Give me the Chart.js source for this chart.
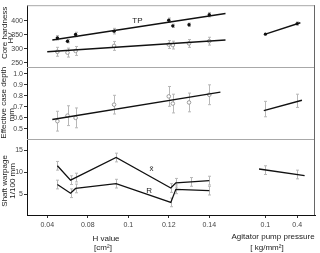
<!DOCTYPE html>
<html>
<head>
<meta charset="utf-8">
<script src="https://cdn.jsdelivr.net/npm/chart.js@4.4.0/dist/chart.umd.min.js"></script>
<style>
  html, body { margin: 0; padding: 0; background: #fff; }
</style>
</head>
<body>
<canvas id="chart" width="320" height="253"></canvas>
<script>
// x axis: H value ticks (unevenly spaced on the original) and pressure ticks
const hTicks = [0.04, 0.08, 0.1, 0.12, 0.14];
const hTickLabels = ['0.04', '0.08', '0.1', '0.12', '0.14'];
const pressureTicks = [0.1, 0.4];
const pressureTickLabels = ['0.1', '0.4'];

// y ticks per panel
const hardnessTicks = [250, 300, 350, 400];
const depthTicks = [0.5, 0.6, 0.7, 0.8, 0.9, 1.0];
const warpTicks = [5, 10, 15];

// Core hardness (HV)
const hardnessH = [0.05, 0.06, 0.068, 0.093, 0.12, 0.122, 0.13, 0.14];
const hardnessTP = [339, 327, 351, 363, 402, 382, 386, 422];
const hardnessTPErr = [8, 6, 8, 10, 8, 6, 6, 8];
const hardnessCore = [289, 286, 292, 310, 315, 313, 319, 327];
const hardnessCoreErr = [16, 16, 16, 16, 14, 14, 14, 14];
const fitTPH = [0.045, 0.148];
const fitTP = [331, 426];
const fitCoreH = [0.04, 0.148];
const fitCore = [289, 331];
const hardnessP = [0.1, 0.4];
const hardnessPVal = [352, 390];
const fitHardnessP = [0.1, 0.43];
const fitHardnessPVal = [352, 393];

// Effective case depth (mm)
const depthH = [0.05, 0.06, 0.068, 0.093, 0.12, 0.122, 0.13, 0.14];
const depth = [0.57, 0.62, 0.60, 0.72, 0.795, 0.73, 0.74, 0.81];
const depthErr = [0.09, 0.09, 0.09, 0.085, 0.09, 0.085, 0.085, 0.09];
const fitDepthH = [0.045, 0.1455];
const fitDepth = [0.585, 0.834];
const depthP = [0.1, 0.4];
const depthPVal = [0.68, 0.755];
const depthPErr = [0.07, 0.06];
const fitDepthP = [0.085, 0.445];
const fitDepthPVal = [0.666, 0.76];

// Shaft warpage (1/100 mm)
const xbarH = [0.05, 0.063, 0.068, 0.094, 0.121, 0.1235, 0.131, 0.14];
const xbar = [11.5, 8.2, 8.8, 13.4, 6.4, 7.6, 7.8, 8.1];
const rangeH = [0.05, 0.063, 0.068, 0.094, 0.121, 0.1235, 0.14];
const range = [7.2, 5.2, 6.3, 7.4, 3.1, 6.1, 5.8];
const warpErr = 1.0;
const warpP = [0.1, 0.4];
const warpPVal = [10.5, 9.5];
const fitWarpP = [0.04, 0.47];
const fitWarpPVal = [10.75, 9.25];

// position of an H value along the axis (ticks are one slot apart)
function hSlot(h) {
  const n = hTicks.length;
  for (let i = 0; i < n - 1; i++) {
    if (h <= hTicks[i + 1] || i === n - 2) {
      return i + (h - hTicks[i]) / (hTicks[i + 1] - hTicks[i]);
    }
  }
}
// pressure section sits to the right of the H section
function pSlot(p) {
  return 5.385 + (p - pressureTicks[0]) / (pressureTicks[1] - pressureTicks[0]) * 0.785;
}

function pts(xs, ys, map) {
  return xs.map((x, i) => ({ x: map(x), y: ys[i] }));
}

const BLACK = '#111';
const GREY = '#9a9a9a';
const BAR = '#b8b8b8';

function fitLine(data, yAxisID) {
  return { data, yAxisID, showLine: true, borderColor: BLACK, borderWidth: 1.4, pointRadius: 0 };
}
function polyLine(data, yAxisID, errors) {
  return { data, yAxisID, errors, showLine: true, borderColor: BLACK, borderWidth: 1.3, pointRadius: 0 };
}

const datasets = [
  fitLine(pts(fitTPH, fitTP, hSlot), 'yTop'),
  fitLine(pts(fitCoreH, fitCore, hSlot), 'yTop'),
  fitLine(pts(fitHardnessP, fitHardnessPVal, pSlot), 'yTop'),
  { data: pts(hardnessH, hardnessCore, hSlot), yAxisID: 'yTop', errors: hardnessCoreErr,
    pointRadius: 1.8, pointBackgroundColor: '#fff', pointBorderColor: GREY, pointBorderWidth: 1 },
  { data: pts(hardnessH, hardnessTP, hSlot), yAxisID: 'yTop', errors: hardnessTPErr,
    pointRadius: 1.7, pointBackgroundColor: BLACK, pointBorderColor: BLACK, pointBorderWidth: 0 },
  { data: pts(hardnessP, hardnessPVal, pSlot), yAxisID: 'yTop', errors: [0, 6],
    pointRadius: 1.6, pointBackgroundColor: BLACK, pointBorderColor: BLACK, pointBorderWidth: 0 },

  fitLine(pts(fitDepthH, fitDepth, hSlot), 'yMid'),
  fitLine(pts(fitDepthP, fitDepthPVal, pSlot), 'yMid'),
  { data: pts(depthH, depth, hSlot), yAxisID: 'yMid', errors: depthErr,
    pointRadius: 1.8, pointBackgroundColor: '#fff', pointBorderColor: GREY, pointBorderWidth: 1 },
  { data: pts(depthP, depthPVal, pSlot), yAxisID: 'yMid', errors: depthPErr, pointRadius: 0 },

  polyLine(pts(xbarH, xbar, hSlot), 'yBot', xbar.map(() => warpErr)),
  polyLine(pts(rangeH, range, hSlot), 'yBot', range.map(() => warpErr)),
  fitLine(pts(fitWarpP, fitWarpPVal, pSlot), 'yBot'),
  { data: pts(warpP, warpPVal, pSlot), yAxisID: 'yBot', errors: [warpErr, warpErr], pointRadius: 0 }
];

const errorBars = {
  id: 'errorBars',
  beforeDatasetsDraw(chart) {
    const ctx = chart.ctx;
    ctx.save();
    ctx.strokeStyle = BAR;
    ctx.lineWidth = 1;
    chart.data.datasets.forEach((ds, di) => {
      if (!ds.errors) return;
      const meta = chart.getDatasetMeta(di);
      const ys = chart.scales[ds.yAxisID];
      meta.data.forEach((el, i) => {
        const e = ds.errors[i];
        if (!e) return;
        const v = ds.data[i].y;
        const y1 = ys.getPixelForValue(v - e);
        const y2 = ys.getPixelForValue(v + e);
        const x = Math.round(el.x) + 0.5;
        ctx.beginPath();
        ctx.moveTo(x, y1); ctx.lineTo(x, y2);
        ctx.moveTo(x - 1.5, y1); ctx.lineTo(x + 1.5, y1);
        ctx.moveTo(x - 1.5, y2); ctx.lineTo(x + 1.5, y2);
        ctx.stroke();
      });
    });
    ctx.restore();
  }
};

function vText(ctx, text, x, y) {
  ctx.save();
  ctx.translate(x, y);
  ctx.rotate(-Math.PI / 2);
  ctx.fillText(text, 0, 0);
  ctx.restore();
}

const decorations = {
  id: 'decorations',
  afterDraw(chart) {
    const ctx = chart.ctx;
    const a = chart.chartArea;
    const s = chart.scales;
    ctx.save();
    // frame and panel separators
    ctx.lineWidth = 1;
    ctx.strokeStyle = '#a8a8a8';
    ctx.beginPath();
    ctx.moveTo(a.left, a.top + 0.5); ctx.lineTo(a.right, a.top + 0.5);
    ctx.moveTo(a.left, Math.round(s.yMid.top) + 0.5); ctx.lineTo(a.right, Math.round(s.yMid.top) + 0.5);
    ctx.moveTo(a.left, Math.round(s.yBot.top) + 0.5); ctx.lineTo(a.right, Math.round(s.yBot.top) + 0.5);
    ctx.stroke();
    ctx.strokeStyle = '#666';
    ctx.beginPath();
    ctx.moveTo(Math.round(a.right) - 0.5, a.top); ctx.lineTo(Math.round(a.right) - 0.5, a.bottom);
    ctx.stroke();

    // series labels
    ctx.fillStyle = '#222';
    ctx.font = '8px "Liberation Sans", Arial, sans-serif';
    ctx.textAlign = 'center';
    ctx.textBaseline = 'middle';
    ctx.fillText('TP', s.x.getPixelForValue(hSlot(0.1045)), s.yTop.getPixelForValue(400));
    ctx.fillText('x\u0304', s.x.getPixelForValue(hSlot(0.1115)), s.yBot.getPixelForValue(10.8));
    ctx.fillText('R', s.x.getPixelForValue(hSlot(0.1103)), s.yBot.getPixelForValue(5.8));

    // axis titles
    const top = s.yTop, mid = s.yMid, bot = s.yBot;
    vText(ctx, 'Core hardness', 4.5, (top.top + top.bottom) / 2 - 3);
    vText(ctx, 'HV', 11, (top.top + top.bottom) / 2 + 2);
    vText(ctx, 'Effective case depth', 4, (mid.top + mid.bottom) / 2);
    vText(ctx, 'mm', 12, (mid.top + mid.bottom) / 2 + 12);
    vText(ctx, 'Shaft warpage', 5, (bot.top + bot.bottom) / 2 + 4);
    vText(ctx, '1/100 mm', 12.5, (bot.top + bot.bottom) / 2 + 4);

    const b = a.bottom;
    ctx.fillText('H value', 106, b + 24);
    ctx.fillText('[cm\u00B2]', 103, b + 33);
    ctx.fillText('Agitator pump pressure', 273, b + 22);
    ctx.fillText('[ kg/mm\u00B2]', 267, b + 33);
    ctx.restore();
  }
};

const tickFont = { family: '"Liberation Sans", Arial, sans-serif', size: 7 };
const xTickValues = hTicks.map(hSlot).concat(pressureTicks.map(pSlot));
const xTickLabels = hTickLabels.concat(pressureTickLabels);

function yScale(min, max, ticks, weight, fmt) {
  return {
    type: 'linear',
    position: 'left',
    stack: 'panels',
    stackWeight: weight,
    min, max,
    border: { display: true, color: '#111', width: 1 },
    grid: { drawOnChartArea: false, drawTicks: true, tickLength: 3, color: '#333' },
    ticks: { font: tickFont, color: '#444', padding: 1, autoSkip: false, callback: fmt },
    afterBuildTicks: sc => { sc.ticks = ticks.map(v => ({ value: v })); },
    afterFit: sc => { sc.width = 27; }
  };
}

new Chart(document.getElementById('chart'), {
  type: 'scatter',
  data: { datasets },
  plugins: [errorBars, decorations],
  options: {
    responsive: false,
    animation: false,
    devicePixelRatio: 1,
    layout: { padding: { top: 3, right: 5, left: 0, bottom: 0 } },
    plugins: { legend: { display: false }, tooltip: { enabled: false } },
    scales: {
      x: {
        type: 'linear',
        min: -0.5, max: 6.61,
        border: { display: true, color: '#111', width: 1 },
        grid: { drawOnChartArea: false, drawTicks: true, tickLength: 3, color: '#333' },
        ticks: {
          font: tickFont, color: '#444', padding: 3, autoSkip: false, maxRotation: 0,
          callback: (v, i) => xTickLabels[i]
        },
        afterBuildTicks: sc => { sc.ticks = xTickValues.map(v => ({ value: v })); },
        afterFit: sc => { sc.height = 38; }
      },
      yBot: yScale(0.2, 17.7, warpTicks, 77, v => String(v)),
      yMid: yScale(0.41, 1.066, depthTicks, 73, v => v.toFixed(1)),
      yTop: yScale(236, 456, hardnessTicks, 62, v => String(v))
    }
  }
});
</script>
</body>
</html>
